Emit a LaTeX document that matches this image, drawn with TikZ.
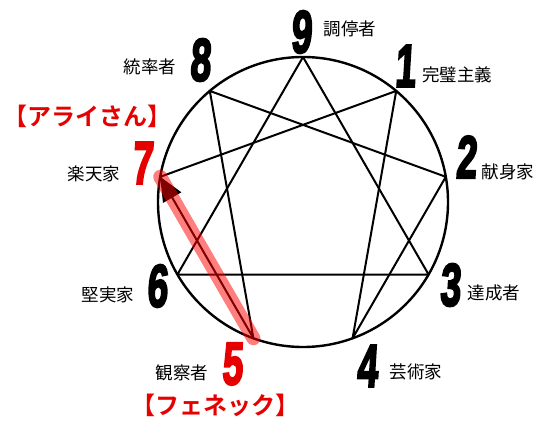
\documentclass[tikz,border=0pt]{standalone}
\usepackage{fontspec}
\usetikzlibrary{arrows.meta,calc}
\newfontfamily\cjk{Noto Sans CJK JP}
\newfontfamily\cjkb{Noto Sans CJK JP Bold}
\newfontfamily\numfont[FakeSlant=0.1,FakeBold=4]{Liberation Sans}
\definecolor{redtext}{RGB}{230,0,0}
\begin{document}
\begin{tikzpicture}[x=1pt,y=1pt,
  lbl/.style={font=\cjk\fontsize{17.5}{17.5}\selectfont, inner sep=0pt},
  redlbl/.style={font=\cjkb\fontsize{24}{24}\selectfont, text=redtext, inner sep=0pt},
  num/.style={inner sep=0pt},
  edge/.style={line width=2pt, black},
  ring/.style={line width=2.4pt, black}]
\useasboundingbox (0,0) rectangle (543,426);
\fill[white] (0,0) rectangle (543,426);
\newcommand{\dig}[1]{\scalebox{0.62}[1]{\numfont\bfseries\fontsize{60}{60}\selectfont #1}}
\coordinate (c) at (303,224);
\foreach \k in {0,...,8} {
  \coordinate (p\k) at ($(c)+({90-40*\k}:145)$);
}
\draw[ring] (c) circle (145);
% triangle 9-3-6
\draw[edge, line join=round] (p0) -- (p3) -- (p6) -- cycle;
% hexad 1-4-2-8-5-7-1
\draw[edge, line join=round] (p1) -- (p4) -- (p2) -- (p8) -- (p5) -- (p7) -- cycle;
% arrow 5 -> 7
\draw[line width=1pt, -{Triangle[length=24pt,width=21pt]}] (p5) -- (p7);
\draw[line width=14pt, line cap=round, red, opacity=0.5] (p5) -- (p7);
% numbers
\node[num] (n9) at (301,394) {\dig{9}};
\node[num] (n1) at (405,360) {\dig{1}};
\node[num] (n2) at (466,269) {\dig{2}};
\node[num] (n3) at (450,141) {\dig{3}};
\node[num] (n4) at (367,60) {\dig{4}};
\node[num, text=redtext] (n5) at (232,62) {\dig{5}};
\node[num] (n6) at (157,140) {\dig{6}};
\node[num, text=redtext] (n7) at (142,263) {\dig{7}};
\node[num] (n8) at (200,366) {\dig{8}};
% labels
\node[lbl] (l9) at (350,397) {調停者};
\node[lbl] (l1) at (457,351) {完璧主義};
\node[lbl] (l2) at (508,254) {献身家};
\node[lbl] (l3) at (494,133) {達成者};
\node[lbl] (l4) at (416,54) {芸術家};
\node[lbl] (l5) at (182,53) {観察者};
\node[lbl] (l6) at (108,131) {堅実家};
\node[lbl] (l7) at (94,252) {楽天家};
\node[lbl] (l8) at (150,359) {統率者};
\node[redlbl] (a) at (87,310) {【アライさん】};
\node[redlbl] (f) at (215,21) {【フェネック】};
\end{tikzpicture}
\end{document}
